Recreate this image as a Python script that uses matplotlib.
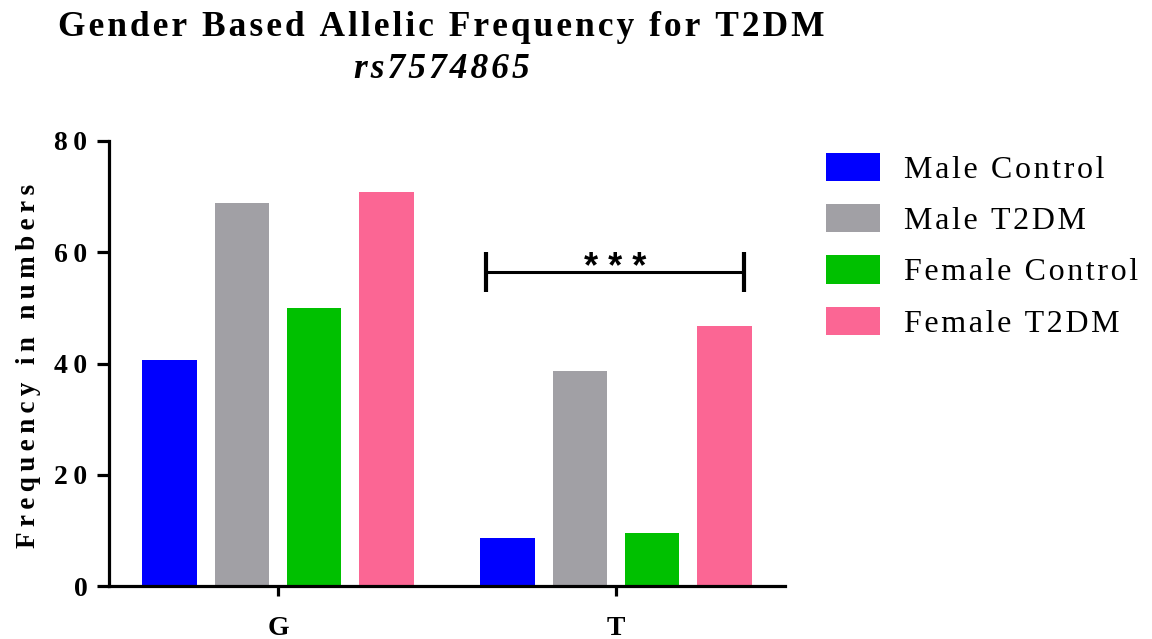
import matplotlib
matplotlib.use("Agg")
import matplotlib.pyplot as plt
from matplotlib.patches import Patch
import numpy as np

alleles = ["G", "T"]
series = ["Male Control", "Male T2DM", "Female Control", "Female T2DM"]
male_control = [40.7, 8.6]
male_t2dm = [68.9, 38.7]
female_control = [50.0, 9.6]
female_t2dm = [70.9, 46.8]
colors = ["#0000FF", "#A1A0A5", "#00C000", "#FB6694"]
yticks = [0, 20, 40, 60, 80]
sig_label = "***"
sig_y = 56.5

SP = "\u2009"
HS = "\u200a"

def spaced(s, sp=SP):
    return sp.join(list(s))

plt.rcParams['font.family'] = ['Liberation Serif', 'DejaVu Serif']

fig = plt.figure(figsize=(11.52, 6.39), dpi=100)
ax = fig.add_axes([109/1152, 1-586/639, 676/1152, 445/639])

values = [male_control, male_t2dm, female_control, female_t2dm]
x = np.arange(len(alleles))
width = 0.161
pitch = 0.2137
for i, (vals, c) in enumerate(zip(values, colors)):
    ax.bar(x + (i - 1.5) * pitch, vals, width=width, color=c, edgecolor='none')

ax.set_xlim(-0.5, 1.5)
ax.set_ylim(0, 80)
ax.spines['top'].set_visible(False)
ax.spines['right'].set_visible(False)
for s in ['left', 'bottom']:
    ax.spines[s].set_linewidth(2.3)
ax.set_xticks(x)
ax.set_xticklabels(alleles, fontsize=20, fontweight='bold')
ax.set_yticks(yticks)
ax.set_yticklabels([spaced(str(v), SP) for v in yticks], fontsize=20, fontweight='bold')
ax.tick_params(axis='y', length=9, width=2.3, pad=6.5)
ax.tick_params(axis='x', length=7.5, width=2.3, pad=14)

ax.set_ylabel(spaced("Frequency in numbers", SP), fontsize=19.5, fontweight='bold')
ax.yaxis.set_label_coords(-0.1, 0.495)

# significance bracket
x1, x2 = 1 - 0.384, 1 + 0.379
ax.plot([x1, x2], [sig_y, sig_y], color='black', lw=2.2, solid_capstyle='butt')
for xx in (x1, x2):
    ax.plot([xx, xx], [sig_y - 3.6, sig_y + 3.6], color='black', lw=3, solid_capstyle='butt')
ax.text((x1 + x2) / 2, sig_y - 1.1, " ".join(sig_label), ha='center', va='baseline',
        fontsize=26, fontweight='bold', family='Liberation Sans')

fig.text(441/1152, 1-28/639, spaced("Gender Based Allelic Frequency for T2DM", HS),
         ha='center', va='center', fontsize=25.5, fontweight='bold')
fig.text(442/1152, 1-70/639, spaced("rs7574865", HS), ha='center', va='center',
         fontsize=25.5, fontweight='bold', style='italic')

handles = [Patch(facecolor=c, edgecolor='none') for c in colors]
leg = fig.legend(handles, [spaced(s, HS) for s in series], loc='upper left',
                 bbox_to_anchor=(826/1152, 1-153/639), frameon=False,
                 fontsize=23, handlelength=1.68, handleheight=0.98,
                 handletextpad=0.75, labelspacing=0.6, borderaxespad=0, borderpad=0)

fig.savefig("out.png", dpi=100)
